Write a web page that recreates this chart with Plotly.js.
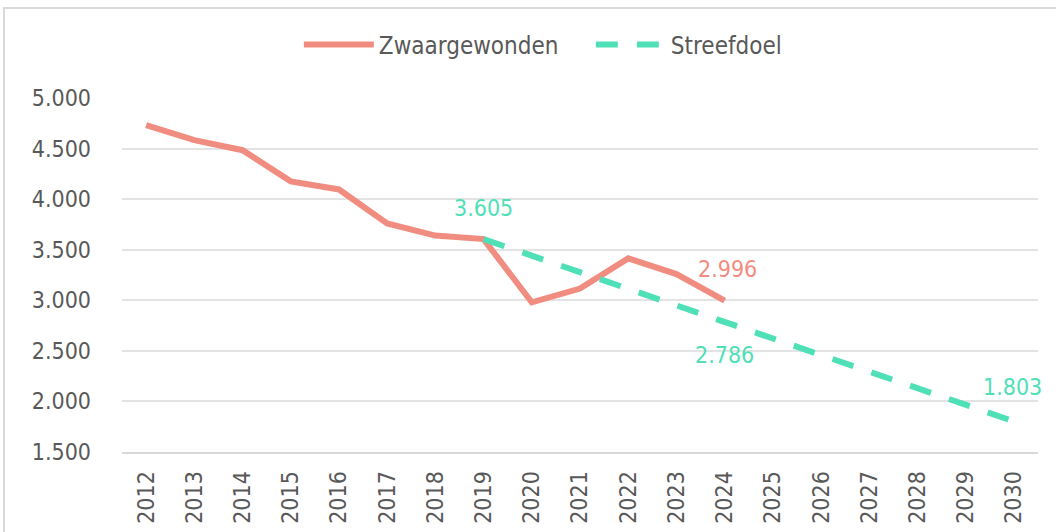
<!DOCTYPE html>
<html>
<head>
<meta charset="utf-8">
<script src="https://cdn.plot.ly/plotly-3.0.1.min.js"></script>
<style>
  html, body { margin: 0; padding: 0; background: #fff; }
  #chart { position: absolute; left: 0; top: 0; width: 1056px; height: 532px; }
  #frame { position: absolute; left: 3px; top: 7px; width: 1100px; height: 600px;
           border: 2px solid #d9d9d9; pointer-events: none; }
</style>
</head>
<body>
<div id="chart"></div>
<div id="frame"></div>
<script>
const years = ['2012','2013','2014','2015','2016','2017','2018','2019','2020','2021',
               '2022','2023','2024','2025','2026','2027','2028','2029','2030'];
const actualYears = ['2012','2013','2014','2015','2016','2017','2018','2019','2020','2021','2022','2023','2024'];
const zwaargewonden = [4732, 4583, 4484, 4176, 4096, 3759, 3640, 3605, 2980, 3116, 3414, 3259, 2996];
const targetYears = ['2019','2020','2021','2022','2023','2024','2025','2026','2027','2028','2029','2030'];
const streefdoel = [3605, 3441, 3277, 3114, 2950, 2786, 2622, 2459, 2295, 2131, 1967, 1803];
const yTicks = [1500, 2000, 2500, 3000, 3500, 4000, 4500, 5000];
const yTickText = ['1.500','2.000','2.500','3.000','3.500','4.000','4.500','5.000'];

const salmon = 'rgb(241,141,128)';
const teal = 'rgb(79,224,183)';
const grey = '#595959';
const FONT = '"DejaVu Sans Condensed", "DejaVu Sans", sans-serif';

function fmt(v) { return String(v).replace(/\B(?=(\d{3})+(?!\d))/g, '.'); }
function idx(y) { return years.indexOf(y); }

const traces = [
  { x: actualYears, y: zwaargewonden, name: 'Zwaargewonden', type: 'scatter', mode: 'lines',
    line: { color: salmon, width: 6 }, hoverinfo: 'skip' },
  { x: targetYears, y: streefdoel, name: 'Streefdoel', type: 'scatter', mode: 'lines',
    line: { color: teal, width: 6, dash: '22px,19px' }, hoverinfo: 'skip' }
];

const lastA = zwaargewonden.length - 1;
const iMid = targetYears.indexOf('2024');
const lastT = streefdoel.length - 1;
const lblFont = (c) => ({ color: c, size: 23, family: FONT });
const annotations = [
  { xref: 'x', yref: 'y', x: idx(targetYears[0]), y: streefdoel[0], text: fmt(streefdoel[0]), font: lblFont(teal),
    showarrow: false, yshift: 31 },
  { xref: 'x', yref: 'y', x: idx(actualYears[lastA]), y: zwaargewonden[lastA], text: fmt(zwaargewonden[lastA]), font: lblFont(salmon),
    showarrow: false, yshift: 32, xshift: 3 },
  { xref: 'x', yref: 'y', x: idx(targetYears[iMid]), y: streefdoel[iMid], text: fmt(streefdoel[iMid]), font: lblFont(teal),
    showarrow: false, yshift: -33, xshift: 0 },
  { xref: 'x', yref: 'y', x: idx(targetYears[lastT]), y: streefdoel[lastT], text: fmt(streefdoel[lastT]), font: lblFont(teal),
    showarrow: false, yshift: 34, xshift: -1 }
];

const layout = {
  width: 1056, height: 532,
  margin: { l: 122, r: 18, t: 98, b: 80 },
  paper_bgcolor: '#ffffff', plot_bgcolor: '#ffffff',
  font: { family: FONT, color: grey, size: 23 },
  showlegend: true,
  legend: { orientation: 'h', xref: 'container', x: 0.283, xanchor: 'left',
            yref: 'container', y: 1 - 45 / 532, yanchor: 'middle',
            font: { size: 24, color: grey, family: FONT }, itemwidth: 70,
            entrywidth: 207, entrywidthmode: 'pixels', traceorder: 'normal' },
  xaxis: { type: 'category', categoryorder: 'array', categoryarray: years, range: [-0.5, years.length - 0.5],
           tickangle: -90, showgrid: false, showline: true, linecolor: '#d9d9d9', linewidth: 2,
           ticks: '', ticklabelstandoff: 8, tickfont: { size: 23, color: grey, family: FONT }, fixedrange: true },
  yaxis: { range: [1500, 5000], tickvals: yTicks, ticktext: yTickText, showgrid: true, gridcolor: '#e3e3e3', gridwidth: 2,
           zeroline: false, showline: false, ticks: '', ticklabelstandoff: 30,
           tickfont: { size: 23, color: grey, family: FONT }, fixedrange: true },
  annotations: annotations
};

Plotly.newPlot('chart', traces, layout, { displayModeBar: false, staticPlot: true });
</script>
</body>
</html>
